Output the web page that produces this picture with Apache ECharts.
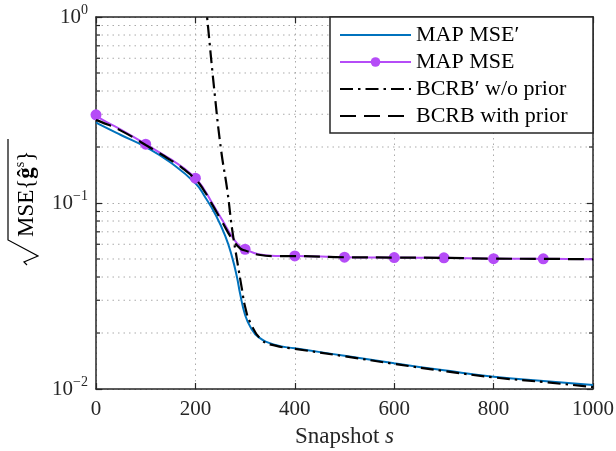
<!DOCTYPE html>
<html>
<head>
<meta charset="utf-8">
<script src="https://cdn.jsdelivr.net/npm/echarts@6/dist/echarts.min.js"></script>
<style>
  html, body { margin: 0; padding: 0; background: #fff; }
  #chart { width: 616px; height: 451px; }
</style>
</head>
<body>
<div id="chart"></div>
<script>
// ---- data: snapshot index s and the root-MSE curves ----
const snapMsePrime = [0, 10, 50, 100, 150, 200, 220, 240, 260, 274, 284, 290, 300, 311, 327, 361, 400, 500, 600, 700, 800, 900, 1000];
const mapMsePrime  = [0.271, 0.262, 0.232, 0.200, 0.165, 0.1276, 0.107, 0.087, 0.0665, 0.051, 0.0395, 0.0325, 0.0250, 0.0215, 0.0190, 0.01725, 0.01655, 0.0151, 0.01374, 0.0126, 0.01164, 0.01104, 0.01051];

const snapMse = [0, 10, 50, 100, 150, 175, 200, 217, 234, 254, 274, 290, 300, 327, 361, 400, 500, 600, 700, 800, 900, 1000];
const mapMse  = [0.298, 0.283, 0.248, 0.207, 0.172, 0.155, 0.136, 0.119, 0.0996, 0.081, 0.0659, 0.0582, 0.0564, 0.053, 0.0519, 0.0519, 0.0511, 0.0509, 0.0507, 0.0502, 0.0501, 0.0498];
const bcrbWithPrior = [0.279, 0.273, 0.245, 0.205, 0.170, 0.153, 0.134, 0.117, 0.098, 0.079, 0.064, 0.057, 0.0555, 0.0527, 0.0518, 0.0518, 0.0511, 0.0509, 0.0507, 0.0502, 0.0501, 0.0498];

const snapNoPrior = [215, 223.5, 240, 252, 264, 274, 284, 294, 300, 311, 334, 361, 400, 500, 600, 700, 800, 900, 1000];
const bcrbNoPrior = [1.7, 1.0, 0.36, 0.19, 0.118, 0.072, 0.049, 0.034, 0.0277, 0.0226, 0.0183, 0.0171, 0.01645, 0.0150, 0.01365, 0.0125, 0.01155, 0.0109, 0.01025];

const markerSnapshots = [0, 100, 200, 300, 400, 500, 600, 700, 800, 900];
const minorGridValues = [0.02, 0.03, 0.04, 0.05, 0.06, 0.07, 0.08, 0.09, 0.2, 0.3, 0.4, 0.5, 0.6, 0.7, 0.8, 0.9];

const seriesNames = ['MAP MSE\u2032', 'MAP MSE', 'BCRB\u2032 w/o prior', 'BCRB with prior'];

// ---- styling ----
const FONT = '"Liberation Serif", "DejaVu Serif", serif';
const AXIS_COLOR = '#262626';
const GRID_COLOR = '#ababab';
const GRID_DASH = [1.5, 4];
const SMOOTH = 0.5;

const zip = (xs, ys) => xs.map((x, i) => [x, ys[i]]);

const mapMseData = snapMse.map((x, i) => {
  const item = { value: [x, mapMse[i]] };
  if (!markerSnapshots.includes(x)) item.symbol = 'none';
  return item;
});

function logLabel(v) {
  const e = Math.round(Math.log10(v));
  const exp = e < 0 ? '\u2212' + (-e) : String(e);
  return '{b|10}{e|' + exp + '}';
}

const chart = echarts.init(document.getElementById('chart'), null, { renderer: 'canvas' });

const commonXAxis = {
  type: 'value', min: 0, max: 1000, interval: 200,
  axisLine: { show: true, onZero: false, lineStyle: { color: AXIS_COLOR, width: 1.5 } },
  axisTick: { show: true, inside: true, length: 6, lineStyle: { color: AXIS_COLOR, width: 1.2 } }
};
const commonYAxis = {
  type: 'log', logBase: 10, min: 0.01, max: 1,
  axisLine: { show: true, onZero: false, lineStyle: { color: AXIS_COLOR, width: 1.5 } },
  axisTick: { show: true, inside: true, length: 6, lineStyle: { color: AXIS_COLOR, width: 1.2 } }
};

// legend entries without a marker hide the legend symbol
const noMarker = { itemStyle: { opacity: 0 } };

const option = {
  animation: false,
  backgroundColor: '#fff',
  grid: { left: 96, right: 23, top: 17, bottom: 62, containLabel: false, outerBoundsMode: 'none' },
  xAxis: [
    Object.assign({}, commonXAxis, {
      position: 'bottom',
      axisLabel: { show: true, margin: 10, color: AXIS_COLOR, fontFamily: FONT, fontSize: 21,
                   formatter: v => String(v) },
      splitLine: { show: true, lineStyle: { color: GRID_COLOR, width: 1, type: GRID_DASH } },
      name: '{n|Snapshot }{i|s}',
      nameLocation: 'middle',
      nameGap: 36,
      nameTextStyle: {
        rich: {
          n: { fontFamily: FONT, fontSize: 23, color: AXIS_COLOR },
          i: { fontFamily: FONT, fontSize: 23, fontStyle: 'italic', color: AXIS_COLOR }
        }
      }
    }),
    Object.assign({}, commonXAxis, {
      position: 'top',
      axisLabel: { show: false },
      splitLine: { show: false }
    })
  ],
  yAxis: [
    Object.assign({}, commonYAxis, {
      position: 'left',
      axisLabel: {
        show: true, margin: 8, formatter: logLabel,
        rich: {
          b: { fontFamily: FONT, fontSize: 21, color: AXIS_COLOR, lineHeight: 28 },
          e: { fontFamily: FONT, fontSize: 14, color: AXIS_COLOR, verticalAlign: 'top' }
        }
      },
      splitLine: { show: true, lineStyle: { color: GRID_COLOR, width: 1, type: GRID_DASH } }
    }),
    Object.assign({}, commonYAxis, {
      position: 'right',
      axisLabel: { show: false },
      splitLine: { show: false }
    })
  ],
  legend: {
    data: [
      Object.assign({ name: seriesNames[0] }, noMarker),
      { name: seriesNames[1] },
      Object.assign({ name: seriesNames[2] }, noMarker),
      Object.assign({ name: seriesNames[3] }, noMarker)
    ],
    orient: 'vertical',
    left: 330, top: 17,
    padding: [7, 8, 7, 9],
    itemWidth: 71, itemHeight: 12, itemGap: 5,
    selectedMode: false,
    z: 6,
    textStyle: { fontFamily: FONT, fontSize: 22, lineHeight: 20, color: '#000' }
  },
  graphic: [
    {
      type: 'rect', z: 5, silent: true,
      shape: { x: 330, y: 17, width: 263, height: 116 },
      style: { fill: '#fff', stroke: AXIS_COLOR, lineWidth: 1.5 }
    },
    {
      // rotated y-axis title: sqrt{ MSE{ g-hat^s } }
      type: 'group', x: 8, y: 265, rotation: Math.PI / 2, silent: true,
      children: [
        {
          type: 'polyline',
          shape: { points: [[0, 19], [3, 16], [9, 30], [25, 0], [126, 0]] },
          style: { stroke: '#000', lineWidth: 1.2, fill: null }
        },
        {
          type: 'text', x: 28, y: 19,
          style: {
            text: 'MSE{{g|\u011d}{s|s}}',
            fontFamily: FONT, fontSize: 23, fill: '#000',
            verticalAlign: 'middle', align: 'left',
            rich: {
              g: { fontFamily: FONT, fontSize: 23, fontWeight: 'bold', fill: '#000', lineHeight: 28 },
              s: { fontFamily: FONT, fontSize: 14, fill: '#000', verticalAlign: 'top' }
            }
          }
        }
      ]
    }
  ],
  series: [
    {
      // minor log grid lines and minor ticks on both y edges
      type: 'custom', silent: true, z: 1,
      xAxisIndex: 0, yAxisIndex: 0,
      data: minorGridValues.map(v => [0, v]),
      encode: { x: 0, y: 1 },
      renderItem: (params, api) => {
        const v = api.value(1);
        const a = api.coord([0, v]);
        const b = api.coord([1000, v]);
        return {
          type: 'group',
          children: [
            { type: 'line', shape: { x1: a[0], y1: a[1], x2: b[0], y2: b[1] },
              style: { stroke: GRID_COLOR, lineWidth: 1, lineDash: GRID_DASH } },
            { type: 'line', shape: { x1: a[0], y1: a[1], x2: a[0] + 4, y2: a[1] },
              style: { stroke: AXIS_COLOR, lineWidth: 1.2 } },
            { type: 'line', shape: { x1: b[0] - 4, y1: b[1], x2: b[0], y2: b[1] },
              style: { stroke: AXIS_COLOR, lineWidth: 1.2 } }
          ]
        };
      }
    },
    {
      name: seriesNames[0], type: 'line', z: 2,
      data: zip(snapMsePrime, mapMsePrime),
      showSymbol: false, symbol: 'none',
      smooth: SMOOTH,
      lineStyle: { color: '#0072bd', width: 2 },
      itemStyle: { color: '#0072bd' }
    },
    {
      name: seriesNames[1], type: 'line', z: 2,
      data: mapMseData,
      symbol: 'circle', symbolSize: 11, showSymbol: true, showAllSymbol: true,
      smooth: SMOOTH,
      lineStyle: { color: '#b54cf7', width: 2 },
      itemStyle: { color: '#b54cf7' }
    },
    {
      name: seriesNames[2], type: 'line', z: 3,
      data: zip(snapNoPrior, bcrbNoPrior),
      showSymbol: false, symbol: 'none',
      smooth: SMOOTH,
      lineStyle: { color: '#000', width: 2.2, type: [13, 5, 2.5, 5] },
      itemStyle: { color: '#000' }
    },
    {
      name: seriesNames[3], type: 'line', z: 3,
      data: zip(snapMse, bcrbWithPrior),
      showSymbol: false, symbol: 'none',
      smooth: SMOOTH,
      lineStyle: { color: '#000', width: 2.2, type: [16, 8] },
      itemStyle: { color: '#000' }
    }
  ]
};

chart.setOption(option);
</script>
</body>
</html>
